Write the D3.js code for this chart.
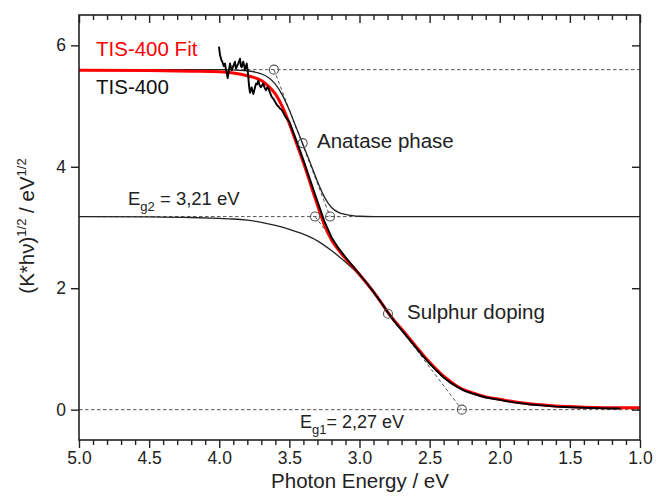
<!DOCTYPE html>
<html><head><meta charset="utf-8">
<script src="https://cdn.jsdelivr.net/npm/d3@7"></script>
<style>body{margin:0;background:#fff}svg{display:block}text{font-family:"Liberation Sans",Arial,sans-serif}</style>
</head><body>
<svg id="chart" width="656" height="497"></svg>
<script>
// ---- data ----
const xTicksMajor = [5.0, 4.5, 4.0, 3.5, 3.0, 2.5, 2.0, 1.5, 1.0];
const yTicksMajor = [0, 2, 4, 6];

// measured data (TIS-400)
const dataE = [4.002,3.995,3.985,3.978,3.968,3.959,3.952,3.947,3.940,3.932,3.923,3.917,3.911,3.900,3.888,3.882,3.876,3.865,3.852,3.846,3.840,3.835,3.829,3.822,3.816,3.810,3.804,3.798,3.793,3.787,3.781,3.775,3.769,3.763,3.757,3.748,3.738,3.730,3.722,3.713,3.704,3.695,3.686,3.676,3.667,3.658,3.650,3.638,3.626,3.614,3.602,3.594,3.586,3.576,3.567,3.555,3.545,3.53,3.5,3.45,3.4,3.35,3.3,3.25,3.2,3.15,3.1,3.05,3.0,2.95,2.9,2.85,2.8,2.75,2.7,2.65,2.6,2.55,2.5,2.45,2.4,2.35,2.3,2.25,2.2,2.1,2.0,1.9,1.8,1.7,1.6,1.5,1.4,1.3,1.2,1.14];
const dataV = [5.98,5.85,5.76,5.73,5.66,5.70,5.60,5.56,5.46,5.58,5.70,5.64,5.59,5.66,5.73,5.62,5.64,5.70,5.78,5.66,5.64,5.69,5.73,5.66,5.59,5.65,5.70,5.60,5.48,5.32,5.22,5.28,5.31,5.24,5.20,5.28,5.37,5.36,5.42,5.35,5.31,5.34,5.37,5.30,5.26,5.31,5.29,5.22,5.15,5.12,5.07,5.04,5.01,4.99,4.96,4.94,4.90,4.83,4.74,4.43,4.11,3.77,3.43,3.10,2.84,2.66,2.51,2.37,2.23,2.09,1.94,1.78,1.61,1.45,1.31,1.17,1.03,0.89,0.76,0.64,0.53,0.44,0.37,0.31,0.27,0.20,0.16,0.12,0.09,0.07,0.05,0.04,0.03,0.025,0.02,0.02];

// fit (TIS-400 Fit)
const fitE = [5.0,4.5,4.2,4.0,3.9,3.8,3.7,3.65,3.6,3.55,3.5,3.45,3.4,3.35,3.3,3.25,3.2,3.15,3.1,3.05,3.0,2.95,2.9,2.85,2.8,2.75,2.7,2.65,2.6,2.55,2.5,2.45,2.4,2.35,2.3,2.25,2.2,2.1,2.0,1.9,1.8,1.7,1.6,1.5,1.4,1.3,1.2,1.1,1.0];
const fitV = [5.59,5.585,5.575,5.565,5.545,5.50,5.42,5.33,5.20,4.99,4.71,4.39,4.07,3.72,3.37,3.04,2.80,2.63,2.49,2.36,2.225,2.085,1.94,1.78,1.61,1.46,1.33,1.19,1.05,0.91,0.78,0.66,0.55,0.46,0.38,0.32,0.28,0.21,0.17,0.13,0.10,0.08,0.06,0.05,0.04,0.035,0.03,0.03,0.03];

// anatase component
const anataseE = [5.0,4.5,4.0,3.9,3.8,3.7,3.65,3.6,3.55,3.5,3.45,3.4,3.35,3.3,3.25,3.2,3.15,3.1,3.05,3.0,2.9,2.5,2.0,1.0];
const anataseV = [5.6,5.6,5.6,5.595,5.58,5.53,5.47,5.36,5.18,4.93,4.64,4.35,4.06,3.76,3.50,3.33,3.25,3.215,3.195,3.185,3.18,3.18,3.18,3.18];

// sulphur doping component
const sulphurE = [5.0,4.5,4.2,4.0,3.9,3.8,3.7,3.6,3.5,3.4,3.3,3.2,3.1,3.0,2.9,2.8,2.7,2.6,2.5,2.4,2.3,2.2,2.1,2.0,1.8,1.6,1.4,1.2,1.0];
const sulphurV = [3.18,3.175,3.165,3.15,3.14,3.12,3.085,3.035,2.97,2.89,2.78,2.62,2.43,2.21,1.93,1.60,1.32,1.04,0.78,0.55,0.38,0.28,0.21,0.17,0.10,0.06,0.04,0.03,0.03];

// reference levels, tangent points and markers
const levels = [5.6, 3.18, 0];
const markerE = [3.61, 3.405, 3.317, 3.21, 2.797, 2.27];
const markerV = [5.6, 4.39, 3.18, 3.18, 1.58, 0];
const tangentA = [[3.61, 5.6], [3.21, 3.18]];
const tangentS = [[3.317, 3.18], [2.27, 0]];

// ---- drawing ----
const svg = d3.select("#chart");
const L = 79, R = 640, T = 15, B = 440;
const x = d3.scaleLinear().domain([5, 1]).range([L, R]);
const y = d3.scaleLinear().domain([-0.5, 6.5]).range([B, T]);
const line = d3.line().x(d => x(d[0])).y(d => y(d[1])).curve(d3.curveMonotoneX);
const straight = d3.line().x(d => x(d[0])).y(d => y(d[1]));

const dashC = "#555";
const plot = svg.append("g");

levels.forEach(v => {
  plot.append("line").attr("x1", x(5)).attr("x2", x(1)).attr("y1", y(v)).attr("y2", y(v))
    .attr("stroke", dashC).attr("stroke-width", 1).attr("stroke-dasharray", "3.5,2.5");
});
[tangentA, tangentS].forEach(t => {
  plot.append("path").attr("d", straight(t)).attr("fill", "none")
    .attr("stroke", dashC).attr("stroke-width", 1).attr("stroke-dasharray", "3.5,2.5");
});

plot.append("path").attr("d", line(d3.zip(sulphurE, sulphurV))).attr("fill", "none")
  .attr("stroke", "#222").attr("stroke-width", 1.3);
plot.append("path").attr("d", line(d3.zip(anataseE, anataseV))).attr("fill", "none")
  .attr("stroke", "#222").attr("stroke-width", 1.3);

plot.append("path").attr("d", line(d3.zip(fitE, fitV))).attr("fill", "none")
  .attr("stroke", "#ff0000").attr("stroke-width", 3);
plot.append("path").attr("d", d3.line().x(d => x(d[0])).y(d => y(d[1]))(d3.zip(dataE, dataV)))
  .attr("fill", "none").attr("stroke", "#000").attr("stroke-width", 1.9).attr("stroke-linejoin", "round");

plot.selectAll("circle.m").data(d3.zip(markerE, markerV)).join("circle")
  .attr("class", "m").attr("cx", d => x(d[0])).attr("cy", d => y(d[1])).attr("r", 4.5)
  .attr("fill", "none").attr("stroke", dashC).attr("stroke-width", 1.1);

svg.append("rect").attr("x", L).attr("y", T).attr("width", R - L).attr("height", B - T)
  .attr("fill", "none").attr("stroke", "#222").attr("stroke-width", 1.6);

const minorX = d3.range(50, 9, -1).map(v => v / 10).filter(v => Math.abs(v * 2 - Math.round(v * 2)) > 1e-6);
const ax = svg.append("g").attr("transform", `translate(0,${B})`)
  .call(d3.axisBottom(x).tickValues(xTicksMajor).tickSize(8).tickPadding(4).tickFormat(d3.format(".1f")));
const axm = svg.append("g").attr("transform", `translate(0,${B})`)
  .call(d3.axisBottom(x).tickValues(minorX).tickSize(5).tickFormat(""));
const at = svg.append("g").attr("transform", `translate(0,${T})`)
  .call(d3.axisTop(x).tickValues(xTicksMajor).tickSize(-8).tickFormat(""));
const atm = svg.append("g").attr("transform", `translate(0,${T})`)
  .call(d3.axisTop(x).tickValues(minorX).tickSize(-5).tickFormat(""));
const ayl = svg.append("g").attr("transform", `translate(${L},0)`)
  .call(d3.axisLeft(y).tickValues(yTicksMajor).tickSize(8).tickPadding(5).tickFormat(d3.format("d")));
const ayr = svg.append("g").attr("transform", `translate(${R},0)`)
  .call(d3.axisRight(y).tickValues(yTicksMajor).tickSize(-8).tickFormat(""));
[ax, axm, at, atm, ayl, ayr].forEach(g => {
  g.select(".domain").remove();
  g.selectAll(".tick line").attr("stroke", "#222").attr("stroke-width", 1.4);
  g.selectAll("text").attr("font-family", '"Liberation Sans",Arial,sans-serif').attr("font-size", 17.5).attr("fill", "#222");
});

svg.append("text").attr("x", 360).attr("y", 488).attr("text-anchor", "middle")
  .attr("font-size", 20.5).attr("fill", "#222").text("Photon Energy / eV");
const yl = svg.append("text").attr("transform", "translate(34,226) rotate(-90)")
  .attr("text-anchor", "middle").attr("font-size", 20.5).attr("fill", "#222");
yl.append("tspan").text("(K*hν)");
yl.append("tspan").attr("font-size", 13).attr("dy", -8).text("1/2");
yl.append("tspan").attr("dy", 8).text(" / eV");
yl.append("tspan").attr("font-size", 13).attr("dy", -8).text("1/2");

svg.append("text").attr("x", 96).attr("y", 56).attr("font-size", 20.5).attr("fill", "#ff0000").text("TIS-400 Fit");
svg.append("text").attr("x", 96).attr("y", 94).attr("font-size", 20.5).attr("fill", "#111").text("TIS-400");

svg.append("text").attr("x", 317).attr("y", 148).attr("font-size", 20.5).attr("fill", "#222").text("Anatase phase");
svg.append("text").attr("x", 407).attr("y", 319).attr("font-size", 20.5).attr("fill", "#222").text("Sulphur doping");
const g2 = svg.append("text").attr("x", 128).attr("y", 205).attr("font-size", 18.5).attr("fill", "#222");
g2.append("tspan").text("E");
g2.append("tspan").attr("font-size", 13).attr("dy", 6).text("g2");
g2.append("tspan").attr("dy", -6).text(" = 3,21 eV");
const g1 = svg.append("text").attr("x", 300).attr("y", 428).attr("font-size", 18).attr("fill", "#222");
g1.append("tspan").text("E");
g1.append("tspan").attr("font-size", 13).attr("dy", 6).text("g1");
g1.append("tspan").attr("dy", -6).text("= 2,27 eV");
</script>
</body></html>
